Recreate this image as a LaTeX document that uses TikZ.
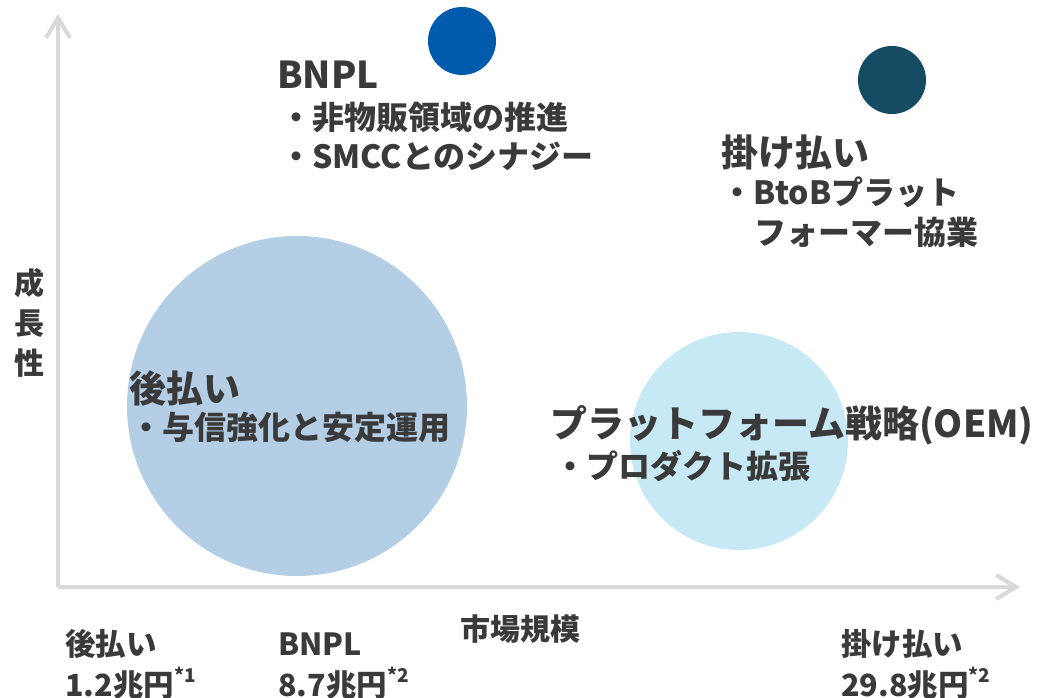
\documentclass[tikz,border=0pt]{standalone}
\usepackage{fontspec}
\setmainfont{Noto Sans CJK JP}
\usetikzlibrary{arrows.meta}
\definecolor{txtgray}{HTML}{3A3A3A}
\definecolor{axisgray}{HTML}{D9D9D9}
\definecolor{atoblue}{HTML}{B4CEE6}
\definecolor{oemblue}{HTML}{C7E9F6}
\definecolor{bnplblue}{HTML}{005BAC}
\definecolor{kaketeal}{HTML}{164C63}
\tikzset{bubble/.style={shape=circle,draw=none,inner sep=0pt},
    	axisline/.style={draw=axisgray,line width=4pt,
    	-{Straight Barb[length=20pt,width=24pt]}},
    	head/.style={anchor=west,inner sep=0pt,text=txtgray,
    	font=\fontsize{37}{40}\selectfont\bfseries},
    	item/.style={anchor=west,inner sep=0pt,text=txtgray,
    	font=\fontsize{32}{36}\selectfont\bfseries},
    	axislabel/.style={inner sep=0pt,text=txtgray,
    	font=\fontsize{30}{40}\selectfont\bfseries},
    	size/.style={anchor=west,inner sep=0pt,text=txtgray,
    	font=\fontsize{30.5}{36}\selectfont\bfseries}}
\newcommand{\note}[1]{\raisebox{0.45em}{\fontsize{19}{19}\selectfont #1}}

\begin{document}
\begin{tikzpicture}[x=1pt,y=-1pt]
			\useasboundingbox (0,0) rectangle (1042,698);
			% bubbles
			\node[bubble,fill=atoblue,minimum size=340pt] (ato) at (297,406) {};
			\node[bubble,fill=oemblue,minimum size=218pt] (oem) at (739,441) {};
			\node[bubble,fill=bnplblue,minimum size=68pt] (bnpl) at (462,41) {};
			\node[bubble,fill=kaketeal,minimum size=68pt] (kake) at (892,80) {};
		
			% axes
			\coordinate (O) at (58,587);
			\coordinate (Ytop) at (58,14);
			\coordinate (Xend) at (1020,587);
			\draw[axisline] (O) -- (Ytop);
			\draw[axisline] (O) -- (Xend);
			\node[axislabel,align=center] (growth) at (30,323) {成\\長\\性};
			\node[axislabel] (market) at (520,629) {市場規模};
		
			% labels
			\node[head] (bnplH) at (277,75) {BNPL};
			\node[item] (bnplA) at (280,118) {・非物販領域の推進};
			\node[item] (bnplB) at (280,156) {・SMCCとのシナジー};
			\node[head] (kakeH) at (721,152) {掛け払い};
			\node[item] (kakeA) at (721,192) {・BtoBプラット};
			\node[item] (kakeB) at (754,232) {フォーマー協業};
			\node[head] (atoH) at (129,388) {後払い};
			\node[item] (atoA) at (130,427) {・与信強化と安定運用};
			\node[head] (oemH) at (550,425) {プラットフォーム戦略(OEM)};
			\node[item] (oemA) at (554,466) {・プロダクト拡張};
		
			% market sizes
			\node[size] (atoS) at (65,644) {後払い};
			\node[size] (atoV) at (65,683) {1.2兆円\note{*1}};
			\node[size] (bnplS) at (278,644) {BNPL};
			\node[size] (bnplV) at (278,683) {8.7兆円\note{*2}};
			\node[size] (kakeS) at (841,644) {掛け払い};
			\node[size] (kakeV) at (841,683) {29.8兆円\note{*2}};
		\end{tikzpicture}
\end{document}
